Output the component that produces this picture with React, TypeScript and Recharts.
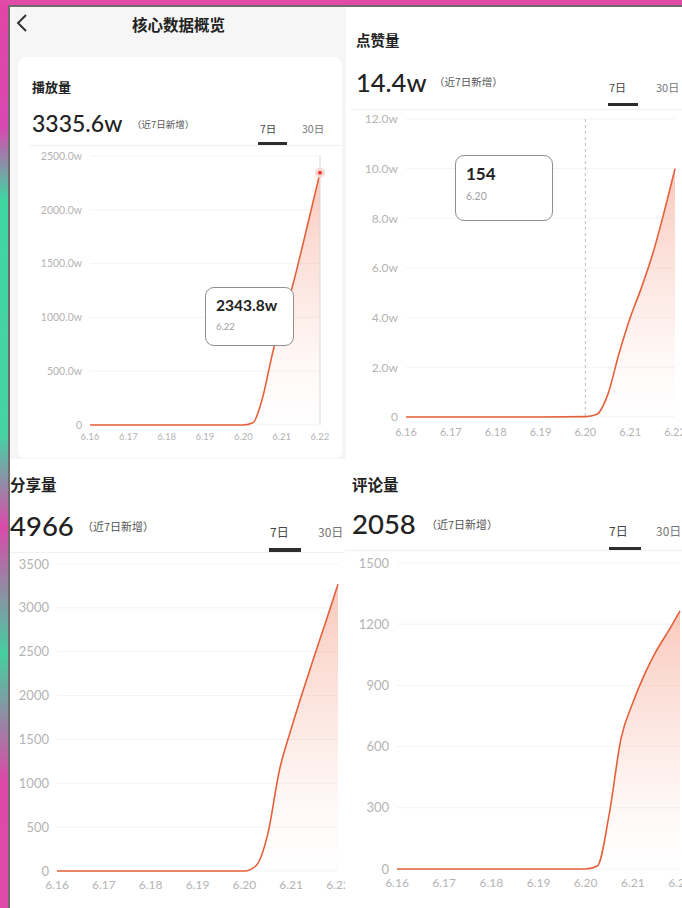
import { AreaChart, Area, XAxis, YAxis, CartesianGrid, Tooltip } from "recharts";

const dayLabels = ["6.16", "6.17", "6.18", "6.19", "6.20", "6.21", "6.22"];
const dayTicks = [0, 1, 2, 3, 4, 5, 6];
// sample positions (day index, quarter-day steps after 6.20)
const steps = [0, 1, 2, 3, 4, 4.25, 4.5, 4.75, 5, 5.25, 5.5, 5.75, 6];

const playValues = [0, 0, 0, 0, 0, 200000, 2500000, 6500000, 10000000, 12500000, 16000000, 19700000, 23438000];
const likeValues = [0, 0, 0, 0, 154, 1000, 9000, 25500, 40000, 52000, 65500, 82000, 100000];
const shareValues = [0, 0, 0, 0, 0, 60, 420, 1150, 1620, 2050, 2460, 2860, 3270];
const commentValues = [0, 0, 0, 0, 0, 15, 270, 640, 815, 955, 1070, 1165, 1265];

const playTicks = [0, 5000000, 10000000, 15000000, 20000000, 25000000];
const likeTicks = [0, 20000, 40000, 60000, 80000, 100000, 120000];
const shareTicks = [0, 500, 1000, 1500, 2000, 2500, 3000, 3500];
const commentTicks = [0, 300, 600, 900, 1200, 1500];

const toRows = (vals: number[]) => steps.map((t, i) => ({ t, v: vals[i] }));

const wan = (v: number) => (v === 0 ? "0" : (v / 10000).toFixed(1) + "w");
const tipValue = (v: number) => (v >= 10000 ? (v / 10000).toFixed(1) + "w" : String(v));

const NUM = "Lato, 'Noto Sans CJK SC', sans-serif";
const CJK = "'Noto Sans CJK SC', sans-serif";
const LINE = "#e5603a";
const TICK = "#b4b4b4";

function TipBox(props: any) {
  const { payload, label, bigSize, smallSize, w, h } = props;
  if (!payload || !payload.length) return null;
  return (
    <div
      style={{
        width: w,
        height: h,
        boxSizing: "border-box",
        background: "#fff",
        border: "1px solid #8f8f8f",
        borderRadius: 9,
        padding: "8px 10px",
        fontFamily: NUM,
      }}
    >
      <div style={{ fontSize: bigSize, fontWeight: 700, color: "#222", lineHeight: 1.2 }}>
        {tipValue(payload[0].value)}
      </div>
      <div style={{ fontSize: smallSize, color: "#a0a0a0", marginTop: 6 }}>{dayLabels[label]}</div>
    </div>
  );
}

function Txt({ x, y, size, children, color = "#222", weight = 400, font = CJK }: any) {
  return (
    <div
      style={{
        position: "absolute",
        left: x,
        top: y - size * 0.6,
        fontSize: size,
        lineHeight: 1.2 + "",
        color,
        fontWeight: weight,
        fontFamily: font,
        whiteSpace: "nowrap",
      }}
    >
      {children}
    </div>
  );
}

function Bar({ x, y, w, h, color }: any) {
  return <div style={{ position: "absolute", left: x, top: y, width: w, height: h, background: color }} />;
}

function Header({ title, value, tx, ty, vy, vSize, tSize, nx, ny, nSize, tab7, tab30, tabY, tabSize, ul, sep }: any) {
  return (
    <>
      <Txt x={tx} y={ty} size={tSize} weight={700}>{title}</Txt>
      <Txt x={tx} y={vy} size={vSize} weight={500} font={NUM}>{value}</Txt>
      <Txt x={nx} y={ny} size={nSize} color="#555">（近7日新增）</Txt>
      <Txt x={tab7} y={tabY} size={tabSize} color="#444">7日</Txt>
      <Txt x={tab30} y={tabY} size={tabSize} color="#777">30日</Txt>
      <Bar x={ul[0]} y={ul[1]} w={ul[2]} h={ul[3]} color="#2d2d2d" />
      <Bar x={sep[0]} y={sep[1]} w={sep[2]} h={1} color="#f1f1f1" />
    </>
  );
}

function Chart({ id, rows, ticks, fmt, left, top, width, height, yWidth, yFont, xFont, xMargin, tip }: any) {
  return (
    <div style={{ position: "absolute", left, top }}>
      <AreaChart width={width} height={height} data={rows} margin={{ top: 10, right: 10, left: 0, bottom: 0 }}>
        <defs>
          <linearGradient id={id} x1="0" y1="0" x2="0" y2="1">
            <stop offset="0%" stopColor="#f4937a" stopOpacity={0.85} />
            <stop offset="55%" stopColor="#f8b9a8" stopOpacity={0.45} />
            <stop offset="100%" stopColor="#fff4f0" stopOpacity={0.1} />
          </linearGradient>
        </defs>
        <CartesianGrid vertical={false} stroke="#f3f3f3" />
        <XAxis
          dataKey="t"
          type="number"
          domain={[0, 6]}
          ticks={dayTicks}
          tickFormatter={(i: number) => dayLabels[i]}
          axisLine={false}
          tickLine={false}
          height={31}
          tickMargin={xMargin}
          tick={{ fontSize: xFont, fill: TICK, fontFamily: NUM }}
          interval={0}
        />
        <YAxis
          domain={[0, ticks[ticks.length - 1]]}
          ticks={ticks}
          tickFormatter={fmt}
          axisLine={false}
          tickLine={false}
          width={yWidth}
          tick={{ fontSize: yFont, fill: TICK, fontFamily: NUM }}
          interval={0}
        />
        {tip && (
          <Tooltip
            active
            defaultIndex={tip.index}
            position={tip.pos}
            cursor={tip.cursor}
            isAnimationActive={false}
            content={<TipBox bigSize={tip.big} smallSize={tip.small} w={tip.w} h={tip.h} />}
          />
        )}
        <Area
          type="monotone"
          dataKey="v"
          stroke={LINE}
          strokeWidth={1.6}
          fill={`url(#${id})`}
          dot={false}
          activeDot={tip && tip.dot ? { r: 3.5, fill: "#e0413a", stroke: "#fbd9d2", strokeWidth: 3 } : false}
          isAnimationActive={false}
        />
      </AreaChart>
    </div>
  );
}

export default function App() {
  return (
    <div
      style={{
        position: "absolute",
        left: 0,
        top: 0,
        width: 682,
        height: 908,
        overflow: "hidden",
        background: "#fff",
      }}
    >
      {/* frame strips */}
      <div
        style={{
          position: "absolute",
          left: 0,
          top: 0,
          width: 9,
          height: 908,
          background: "linear-gradient(180deg,#e245a6 0%,#d948b0 14%,#3fd6a2 22%,#45d3a4 48%,#d94aa9 58%,#44cf9f 72%,#de48a8 86%,#e04aa8 100%)",
        }}
      />
      <div style={{ position: "absolute", left: 0, top: 0, width: 682, height: 5, background: "#e24aa8" }} />
      <Bar x={9} y={5} w={673} h={1.5} color="#6d6d6d" />
      <Bar x={8} y={5} w={1.5} h={903} color="#6d6d6d" />

      {/* panel 1 background */}
      <div style={{ position: "absolute", left: 10, top: 6.5, width: 336, height: 452, background: "#f6f6f6" }} />
      <div style={{ position: "absolute", left: 18, top: 57, width: 324, height: 401, background: "#fff", borderRadius: 8 }} />
      <svg style={{ position: "absolute", left: 14, top: 12 }} width={20} height={22}>
        <polyline points="12,3 4,11 12,19" fill="none" stroke="#333" strokeWidth={2} />
      </svg>
      <Txt x={132} y={24} size={15.5} weight={700}>核心数据概览</Txt>

      <Header
        title="播放量" tx={32} ty={87} tSize={13}
        value="3335.6w" vy={124} vSize={23}
        nx={132} ny={125} nSize={9.5}
        tab7={260} tab30={302} tabY={129} tabSize={10.5}
        ul={[258, 142, 29, 3]} sep={[30, 145, 312]}
      />
      <Chart
        id="g1" rows={toRows(playValues)} ticks={playTicks} fmt={wan}
        left={30} top={146} width={300} height={310} yWidth={60} yFont={10.5} xFont={9.5} xMargin={2}
        tip={{ index: 12, pos: { x: 175, y: 141 }, cursor: { stroke: "#d8d8d8", strokeWidth: 1 }, big: 15.5, small: 9.5, w: 89, h: 59, dot: true }}
      />

      {/* panel 2 */}
      <Header
        title="点赞量" tx={356} ty={40} tSize={14.5}
        value="14.4w" vy={82} vSize={25.5}
        nx={434} ny={82} nSize={10.5}
        tab7={609} tab30={656} tabY={88} tabSize={11}
        ul={[608, 103, 30, 3]} sep={[350, 109, 332]}
      />
      <Chart
        id="g2" rows={toRows(likeValues)} ticks={likeTicks} fmt={wan}
        left={345} top={109} width={340} height={339} yWidth={61} yFont={12} xFont={11} xMargin={5}
        tip={{ index: 4, pos: { x: 110, y: 46 }, cursor: { stroke: "#bdbdbd", strokeWidth: 1, strokeDasharray: "3 3" }, big: 17, small: 10.5, w: 98, h: 66, dot: false }}
      />

      {/* panel 3 */}
      <Header
        title="分享量" tx={10} ty={484} tSize={15.5}
        value="4966" vy={525} vSize={27.5}
        nx={82} ny={527} nSize={11}
        tab7={270} tab30={318} tabY={532} tabSize={12}
        ul={[269, 548, 32, 4]} sep={[10, 552, 336]}
      />
      <Chart
        id="g3" rows={toRows(shareValues)} ticks={shareTicks} fmt={(v: number) => String(v)}
        left={0} top={554} width={348} height={348} yWidth={57} yFont={13} xFont={12} xMargin={3}
      />

      {/* panel 4 */}
      <div style={{ position: "absolute", left: 345, top: 459, width: 337, height: 449, background: "#fff" }} />
      <Header
        title="评论量" tx={352} ty={484} tSize={15.5}
        value="2058" vy={523} vSize={27.5}
        nx={426} ny={525} nSize={11}
        tab7={609} tab30={656} tabY={531} tabSize={12}
        ul={[609, 547, 32, 4]} sep={[345, 550, 337]}
      />
      <Chart
        id="g4" rows={toRows(commentValues)} ticks={commentTicks} fmt={(v: number) => String(v)}
        left={345} top={553} width={345} height={347} yWidth={52} yFont={13} xFont={12} xMargin={3}
      />
    </div>
  );
}
